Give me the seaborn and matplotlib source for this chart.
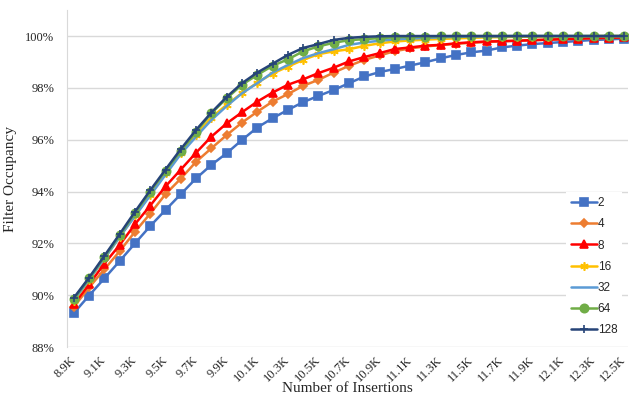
import pandas as pd
import matplotlib.pyplot as plt
import seaborn as sns

# x categories (insertions)
insertions = ["8.9K", "9.0K", "9.1K", "9.2K", "9.3K", "9.4K", "9.5K", "9.6K", "9.7K", "9.8K",
              "9.9K", "10.0K", "10.1K", "10.2K", "10.3K", "10.4K", "10.5K", "10.6K", "10.7K", "10.8K",
              "10.9K", "11.0K", "11.1K", "11.2K", "11.3K", "11.4K", "11.5K", "11.6K", "11.7K", "11.8K",
              "11.9K", "12.0K", "12.1K", "12.2K", "12.3K", "12.4K", "12.5K"]

# occupancy (%) per bucket size
occ_2 = [89.31, 89.99, 90.65, 91.32, 92.00, 92.67, 93.29, 93.90, 94.51, 95.03,
         95.48, 95.99, 96.47, 96.83, 97.15, 97.45, 97.69, 97.92, 98.18, 98.44,
         98.61, 98.73, 98.86, 98.99, 99.14, 99.27, 99.37, 99.44, 99.56, 99.63,
         99.69, 99.73, 99.77, 99.81, 99.85, 99.87, 99.90]
occ_4 = [89.55, 90.30, 91.00, 91.70, 92.45, 93.15, 93.90, 94.50, 95.15, 95.67,
         96.18, 96.66, 97.08, 97.47, 97.76, 98.08, 98.31, 98.59, 98.85, 99.08,
         99.25, 99.42, 99.52, 99.60, 99.65, 99.70, 99.74, 99.77, 99.80, 99.82,
         99.84, 99.86, 99.88, 99.90, 99.92, 99.93, 99.95]
occ_8 = [89.65, 90.42, 91.22, 91.94, 92.74, 93.46, 94.20, 94.85, 95.50, 96.12,
         96.63, 97.06, 97.47, 97.82, 98.12, 98.33, 98.57, 98.78, 99.02, 99.19,
         99.34, 99.50, 99.56, 99.63, 99.66, 99.72, 99.76, 99.79, 99.80, 99.82,
         99.84, 99.86, 99.88, 99.90, 99.92, 99.93, 99.95]
occ_16 = [89.78, 90.58, 91.42, 92.25, 93.08, 93.88, 94.70, 95.50, 96.20, 96.85,
          97.35, 97.80, 98.20, 98.55, 98.82, 99.08, 99.30, 99.41, 99.49, 99.62,
          99.72, 99.79, 99.83, 99.86, 99.89, 99.91, 99.93, 99.95, 99.96, 99.97,
          99.98, 99.98, 99.99, 99.99, 100.0, 100.0, 100.0]
occ_32 = [89.80, 90.60, 91.42, 92.25, 93.05, 93.85, 94.65, 95.45, 96.12, 96.76,
          97.30, 97.79, 98.18, 98.59, 98.88, 99.15, 99.34, 99.49, 99.66, 99.75,
          99.82, 99.87, 99.90, 99.93, 99.95, 99.97, 99.98, 99.99, 99.99, 100.0,
          100.0, 100.0, 100.0, 100.0, 100.0, 100.0, 100.0]
occ_64 = [89.86, 90.65, 91.48, 92.32, 93.16, 94.00, 94.80, 95.57, 96.30, 97.02,
          97.60, 98.12, 98.50, 98.85, 99.10, 99.41, 99.60, 99.74, 99.84, 99.88,
          99.92, 99.95, 99.97, 99.98, 99.99, 100.0, 100.0, 100.0, 100.0, 100.0,
          100.0, 100.0, 100.0, 100.0, 100.0, 100.0, 100.0]
occ_128 = [89.90, 90.68, 91.52, 92.36, 93.22, 94.05, 94.85, 95.64, 96.38, 97.05,
           97.65, 98.18, 98.59, 98.93, 99.27, 99.54, 99.69, 99.85, 99.93, 99.97,
           99.99, 100.0, 100.0, 100.0, 100.0, 100.0, 100.0, 100.0, 100.0, 100.0,
           100.0, 100.0, 100.0, 100.0, 100.0, 100.0, 100.0]

series_names = ["2", "4", "8", "16", "32", "64", "128"]
series_values = [occ_2, occ_4, occ_8, occ_16, occ_32, occ_64, occ_128]

colors = ["#4472C4", "#ED7D31", "#FF0000", "#FFC000", "#5B9BD5", "#70AD47", "#264478"]
markers = ["s", "D", "^", (6, 2, 0), None, "o", "+"]
msizes = [6, 4, 6, 6, 0, 6, 6]

sns.set_style("white")
plt.rcParams["font.family"] = ["Liberation Serif", "DejaVu Serif"]

fig = plt.figure(figsize=(6.3, 4.05), dpi=100)
ax = fig.add_axes([0.106, 0.143, 0.891, 0.832])

pos = list(range(len(insertions)))
for name, vals, c, m, ms in zip(series_names, series_values, colors, markers, msizes):
    df = pd.DataFrame({"x": pos, "y": vals})
    sns.lineplot(data=df, x="x", y="y", ax=ax, color=c, marker=m, markersize=ms,
                 markeredgecolor=c, markeredgewidth=1.2, linewidth=1.8, label=name)

ax.set_ylim(88, 101)
ax.set_yticks([88, 90, 92, 94, 96, 98, 100])
ax.set_yticklabels([f"{v}%" for v in [88, 90, 92, 94, 96, 98, 100]], fontsize=9)
ax.yaxis.grid(True, color="#d9d9d9", linewidth=1)
ax.set_axisbelow(True)

ax.set_xlim(-0.46, 36.26)
ax.set_xticks(pos[::2])
ax.set_xticklabels(insertions[::2], rotation=45, ha="right", va="center",
                   rotation_mode="anchor", fontsize=9)
ax.tick_params(axis="x", length=0, pad=8)
ax.tick_params(axis="y", length=0, pad=9)

for s in ["top", "right", "bottom"]:
    ax.spines[s].set_visible(False)
ax.spines["left"].set_color("#d9d9d9")

ax.set_xlabel("Number of Insertions", fontsize=11, labelpad=-2)
ax.set_ylabel("Filter Occupancy", fontsize=11, labelpad=6)

leg = ax.legend(loc="lower right", bbox_to_anchor=(1.0, 0.0), frameon=True,
                facecolor="white", edgecolor="none", framealpha=1, fancybox=False,
                prop={"family": "Liberation Sans", "size": 8.5},
                handlelength=2.2, labelspacing=0.78, handletextpad=0.1)

plt.savefig("out.png", dpi=100)
